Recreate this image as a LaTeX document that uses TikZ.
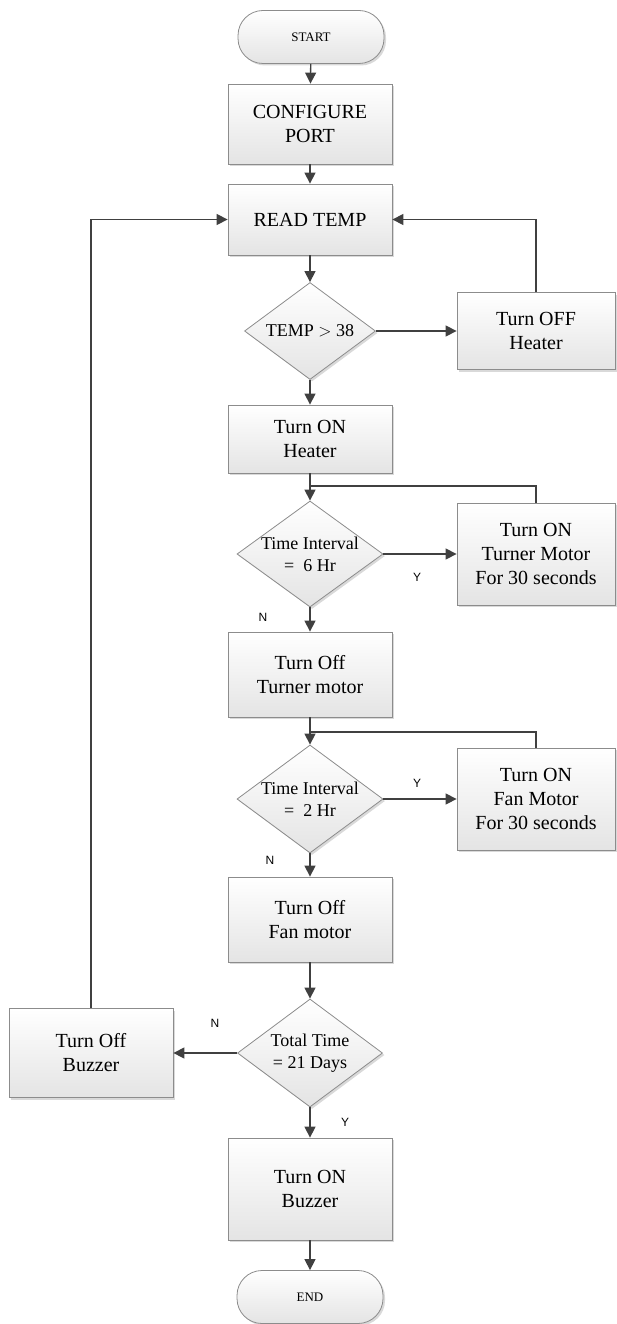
\documentclass[tikz,border=0pt]{standalone}
\usepackage{fontspec}
\setmainfont{Liberation Serif}
\newfontfamily\lblfont{Liberation Sans}
\usetikzlibrary{arrows.meta,shapes.geometric,shadows}
\definecolor{linecol}{HTML}{404040}
\definecolor{bordercol}{HTML}{8C8C8C}
\definecolor{fillbot}{HTML}{E4E4E4}
\tikzset{
  shade/.style={top color=white, bottom color=fillbot, draw=bordercol, line width=0.8pt,
    drop shadow={shadow xshift=2pt, shadow yshift=-2pt, fill=black!25, opacity=0.6}},
  procbox/.style={shade, rectangle, inner sep=0pt, align=center,
    font=\fontsize{20}{24}\selectfont},
  termbox/.style={shade, rectangle, rounded corners=25pt, inner sep=0pt,
    minimum width=146pt, minimum height=53pt, font=\fontsize{13}{15}\selectfont},
  decbox/.style={shade, diamond, inner sep=0pt, aspect=1.3},
  dectext/.style={align=center, font=\fontsize{18}{22}\selectfont},
  arr/.style={draw=linecol, line width=1.3pt, -{Triangle[length=11pt,width=11pt]}},
  ln/.style={draw=linecol, line width=1.3pt},
  yn/.style={font=\lblfont\fontsize{12}{14}\selectfont, text=black}
}
\begin{document}
\begin{tikzpicture}[x=1pt,y=-1pt]
\useasboundingbox (0,0) rectangle (617,1324);

\node[termbox] (start) at (311,37) {START};
\node[procbox, minimum width=164pt, minimum height=80pt] (conf) at (310,124) {CONFIGURE\\PORT};
\node[procbox, minimum width=164pt, minimum height=71pt] (read) at (310,219.5) {READ TEMP};
\node[decbox, minimum width=131pt, minimum height=97pt] (d1) at (310,331) {};
\node[dectext] at (d1) {TEMP $>$ 38};
\node[procbox, minimum width=158pt, minimum height=77pt] (offh) at (536,331) {Turn OFF\\Heater};
\node[procbox, minimum width=164pt, minimum height=68pt] (onh) at (310,439) {Turn ON\\Heater};
\node[decbox, minimum width=146pt, minimum height=106pt] (d2) at (310,554) {};
\node[dectext] at (d2) {Time Interval\\= \ 6 Hr};
\node[procbox, minimum width=158pt, minimum height=102pt] (turner) at (536,554) {Turn ON\\Turner Motor\\For 30 seconds};
\node[procbox, minimum width=164pt, minimum height=85pt] (offturn) at (310,674.5) {Turn Off\\Turner motor};
\node[decbox, minimum width=146pt, minimum height=108pt] (d3) at (310,799) {};
\node[dectext] at (d3) {Time Interval\\= \ 2 Hr};
\node[procbox, minimum width=158pt, minimum height=102pt] (fan) at (536,799) {Turn ON\\Fan Motor\\For 30 seconds};
\node[procbox, minimum width=164pt, minimum height=85pt] (offfan) at (310,919.5) {Turn Off\\Fan motor};
\node[decbox, minimum width=145pt, minimum height=108pt] (d4) at (310,1053) {};
\node[dectext] at (d4) {Total Time\\= 21 Days};
\node[procbox, minimum width=164pt, minimum height=89pt] (offbuz) at (91,1053) {Turn Off\\Buzzer};
\node[procbox, minimum width=164pt, minimum height=102pt] (onbuz) at (310,1189) {Turn ON\\Buzzer};
\node[termbox] (end) at (310,1297) {END};

\coordinate (j1) at (310,486);
\coordinate (j2) at (310,732);

\draw[arr] (start) -- (conf);
\draw[arr] (conf) -- (read);
\draw[arr] (read) -- (d1);
\draw[arr] (d1) -- (onh);
\draw[arr] (onh) -- (d2);
\draw[arr] (d2) -- (offturn);
\draw[arr] (offturn) -- (d3);
\draw[arr] (d3) -- (offfan);
\draw[arr] (offfan) -- (d4);
\draw[arr] (d4) -- (onbuz);
\draw[arr] (onbuz) -- (end);

\draw[arr] (d1.east) -- (offh.west);
\draw[arr] (offh.north) |- (read.east);
\draw[arr] (d2.east) -- (turner.west);
\draw[ln] (turner.north) |- (j1);
\draw[arr] (d3.east) -- (fan.west);
\draw[ln] (fan.north) |- (j2);
\draw[arr] (d4.west) -- (offbuz.east);
\draw[arr] (offbuz.north) |- (read.west);

\node[yn] (y1) at (417,577) {Y};
\node[yn] (n1) at (263,617) {N};
\node[yn] (y2) at (417,783) {Y};
\node[yn] (n2) at (270,860) {N};
\node[yn] (n3) at (215,1023) {N};
\node[yn] (y3) at (345,1122) {Y};
\end{tikzpicture}
\end{document}
